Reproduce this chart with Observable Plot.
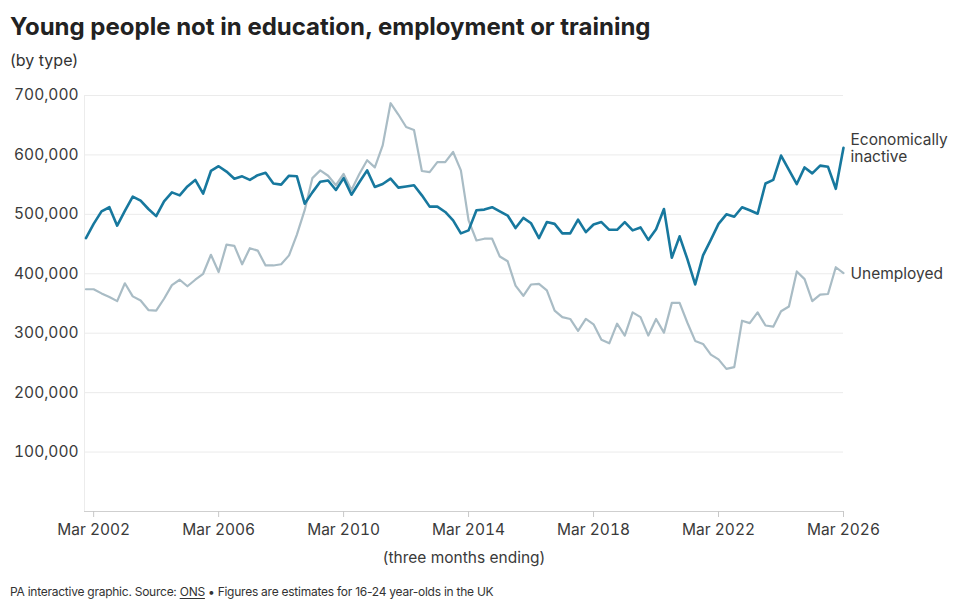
<!DOCTYPE html>
<html><head><meta charset="utf-8">
<script src="https://cdn.jsdelivr.net/npm/d3@7"></script>
<script src="https://cdn.jsdelivr.net/npm/@observablehq/plot@0.6"></script>
<style>
body{margin:0;background:#fff;font-family:Inter,"Noto Sans",sans-serif;color:#333;width:960px;height:611px;overflow:hidden;position:relative}
#title{position:absolute;left:10px;top:13px;font-size:24px;line-height:28px;font-weight:700;color:#222;letter-spacing:0px;white-space:nowrap}
#sub{position:absolute;left:10px;top:50px;font-size:16px;line-height:20px;color:#333}
#chart{position:absolute;left:0;top:80px}
#foot{position:absolute;left:10px;top:584px;font-size:12px;line-height:16px;color:#333;white-space:nowrap;letter-spacing:-0.25px}
#foot u{text-underline-offset:2px}
#chart svg [aria-label="x-axis tick"]{stroke:#c8c8c8}
</style></head>
<body>
<div id="title">Young people not in education, employment or training</div>
<div id="sub">(by type)</div>
<div id="chart"></div>
<div id="foot">PA interactive graphic. Source: <u>ONS</u> • Figures are estimates for 16-24 year-olds in the UK</div>
<script>
// Quarterly, three months ending Dec 2001 ... Mar 2026 (thousands)
const inactive = [460,484,505,512,481,506,530,523,509,497,
522,537,532,547,558,535,573,581,572,560,
564,558,566,570,552,550,565,564,518,537,
555,557,541,561,533,554,574,546,551,560,
545,547,549,532,513,513,504,490,468,473,
507,508,512,505,498,477,494,485,460,487,
484,468,468,491,470,483,487,474,474,487,
473,478,457,475,509,427,463,425,382,431,
457,484,500,496,512,507,501,552,558,599,
575,551,579,569,582,580,543,612];
const unemployed = [374,374,367,361,354,384,362,355,339,338,
358,381,390,379,390,400,432,403,449,447,
416,443,439,414,414,416,431,466,507,561,
574,565,549,568,541,568,591,579,616,687,
668,647,642,573,571,588,588,605,574,490,
456,459,459,429,421,380,363,382,383,372,
338,327,324,304,324,315,289,283,316,296,
335,327,296,324,301,351,351,318,287,282,
264,256,240,243,321,317,335,313,311,337,
345,404,391,354,365,366,411,401];
const seriesNames = ["Economically inactive", "Unemployed"];
const endLabels = ["Economically\ninactive", "Unemployed"];
const xTickYears = [2002, 2006, 2010, 2014, 2018, 2022, 2026];
const yTicks = [100000, 200000, 300000, 400000, 500000, 600000, 700000];

const dates = inactive.map((_, i) => new Date(Date.UTC(2001, 11 + 3 * i, 1)));
const rows = [];
[inactive, unemployed].forEach((arr, s) => arr.forEach((v, i) => rows.push({date: dates[i], value: v * 1000, series: seriesNames[s]})));
const inact = rows.filter(d => d.series === seriesNames[0]);
const unemp = rows.filter(d => d.series === seriesNames[1]);
const last = [inact[inact.length - 1], unemp[unemp.length - 1]].map((d, k) => ({...d, label: endLabels[k]}));
const xTicks = xTickYears.map(y => new Date(Date.UTC(y, 2, 1)));
const xStart = new Date(Date.UTC(2001, 10, 14));
const xEnd = new Date(Date.UTC(2026, 2, 1));

const chart = Plot.plot({
  width: 960, height: 490,
  marginTop: 15, marginBottom: 59, marginLeft: 84, marginRight: 117,
  style: {fontFamily: "Inter, 'Noto Sans', sans-serif", fontSize: "15.5px", color: "#3a3a3a", background: "#fff", overflow: "visible"},
  x: {type: "utc", domain: [xStart, xEnd]},
  y: {domain: [0, 700000]},
  marks: [
    Plot.gridY(yTicks, {stroke: "#ebebeb", strokeOpacity: 1}),
    Plot.ruleX([xStart], {stroke: "#ececec"}),
    Plot.ruleY([0], {stroke: "#cfcfcf"}),
    Plot.lineY(unemp, {x: "date", y: "value", stroke: "#a9bcc5", strokeWidth: 2.2}),
    Plot.lineY(inact, {x: "date", y: "value", stroke: "#17789e", strokeWidth: 2.6}),
    Plot.text(last, {x: "date", y: "value", text: "label", dx: 7, textAnchor: "start", lineAnchor: "middle", lineHeight: 1.12, fill: "#3a3a3a", fontSize: 15.5}),
    Plot.axisX(xTicks, {tickFormat: d3.utcFormat("%b %Y"), tickSize: 6, tickPadding: 6, label: null, fontSize: 15.5}),
    Plot.axisY(yTicks, {tickFormat: d3.format(","), tickSize: 0, tickPadding: 6, label: null, fontSize: 15.5}),
    Plot.text(["(three months ending)"], {frameAnchor: "bottom", dy: 47, lineAnchor: "middle", fill: "#3a3a3a", fontSize: 15.5})
  ]
});
document.getElementById("chart").appendChild(chart);
</script>
</body></html>
